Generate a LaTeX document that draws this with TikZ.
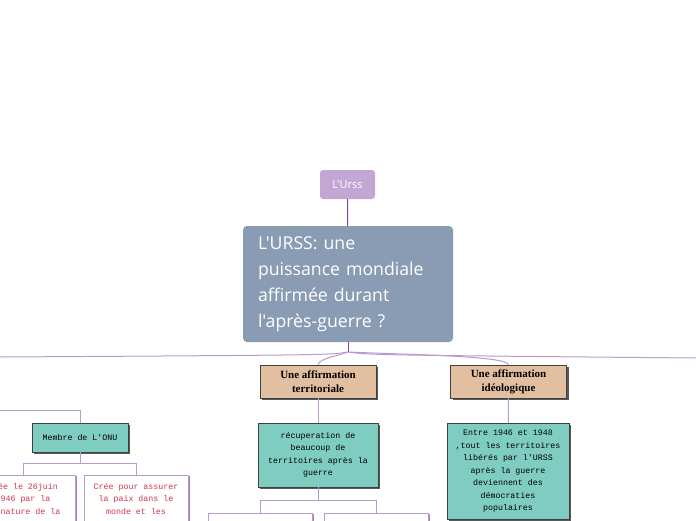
\documentclass[tikz,border=0pt]{standalone}
\usepackage{fontspec}
\newfontfamily\mainsans{Open Sans}
\newfontfamily\headfont{Liberation Serif}
\newfontfamily\notefont{Liberation Mono}
\usetikzlibrary{positioning,shadows}
\definecolor{urssfill}{HTML}{C3A6D4}
\definecolor{mainfill}{HTML}{8A9CB4}
\definecolor{tanfill}{HTML}{E3BFA2}
\definecolor{tealfill}{HTML}{7FCDC1}
\definecolor{linkdark}{HTML}{7D46A6}
\definecolor{linklight}{HTML}{B999D3}
\definecolor{leafred}{HTML}{D4344C}
\tikzset{
  topbox/.style={fill=urssfill,rounded corners=3pt,text=white,minimum width=55pt,minimum height=29pt,font=\mainsans\fontsize{11}{13}\selectfont},
  mainbox/.style={fill=mainfill,rounded corners=4pt,text=white,text width=180pt,inner xsep=15pt,minimum height=116pt,align=left,font=\mainsans\fontsize{17.7}{26}\selectfont},
  headbox/.style={fill=tanfill,draw=black!75,line width=0.8pt,minimum width=116pt,minimum height=33pt,align=center,
    drop shadow={shadow xshift=2pt,shadow yshift=-2pt,fill=black!65,opacity=1},font=\headfont\bfseries\fontsize{11}{14}\selectfont},
  notebox/.style={fill=tealfill,draw=black!75,line width=0.8pt,minimum width=120pt,align=center,inner ysep=7pt,
    drop shadow={shadow xshift=2pt,shadow yshift=-2pt,fill=black!65,opacity=1},font=\notefont\fontsize{8.3}{12.5}\selectfont},
  leafbox/.style={fill=white,draw=linklight,line width=0.8pt,minimum width=104pt,align=center,inner ysep=8pt,text=leafred,
    drop shadow={shadow xshift=2pt,shadow yshift=-1pt,fill=linkdark!70,opacity=1},font=\notefont\fontsize{8.3}{12.5}\selectfont},
  link/.style={draw=linklight,line width=1pt}
}
\begin{document}
\begin{tikzpicture}[x=1pt,y=-1pt]
\useasboundingbox (0,0) rectangle (696,520);
% centre
\node[topbox] (urss) at (347.5,184.5) {L'Urss};
\node[mainbox] (main) at (348,284) {L'URSS: une\\puissance mondiale\\affirmée durant\\l'après-guerre ?};
\coordinate (fork) at (348,352);
\coordinate (westend) at (0,357);
\coordinate (eastend) at (696,358);
% branches
\node[headbox] (terr) at (318,381.5) {Une affirmation\\territoriale};
\node[headbox] (ideo) at (508.5,381.5) {Une affirmation\\idéologique};
\node[notebox,minimum height=64pt] (recup) at (318,455) {récuperation de\\beaucoup de\\territoires après la\\guerre};
\node[notebox,anchor=north,minimum width=122pt] (democ) at (508,423) {Entre 1946 et 1948\\,tout les territoires\\libérés par l'URSS\\après la guerre\\deviennent des\\démocraties\\populaires};
\node[leafbox,anchor=north,minimum height=40pt] (gaina) at (260,513) {};
\node[leafbox,anchor=north,minimum height=40pt] (gainb) at (376,513) {};
% left branch
\coordinate (onuin) at (0,410);
\node[notebox,minimum width=96pt,minimum height=29pt,inner ysep=3pt] (onu) at (80,437.5) {Membre de L'ONU};
\node[leafbox,anchor=north] (date) at (23,475) {Crée le 26juin\\1946 par la\\signature de la\\~};
\node[leafbox,anchor=north] (paix) at (136,475) {Crée pour assurer\\la paix dans le\\monde et les\\~};
% links
\draw[linkdark,line width=1pt] (urss) -- (main);
\draw[linkdark,line width=1pt] (main.south) -- (fork);
\draw[link] (fork) .. controls (330,355) .. (westend);
\draw[link] (fork) .. controls (370,355) .. (eastend);
\draw[link] (fork) .. controls (338,356) and (320,358) .. (terr.north);
\draw[link] (fork) .. controls (420,355) and (505,356) .. (ideo.north);
\draw[link] (terr) -- (recup);
\draw[link] (ideo) -- (democ);
\draw[link] (recup.south) -- ++(0,13) -| (gaina.north);
\draw[link] (recup.south) -- ++(0,13) -| (gainb.north);
\draw[link] (onuin) -| (onu.north);
\draw[link] (onu.south) -- ++(0,11) -| (date.north);
\draw[link] (onu.south) -- ++(0,11) -| (paix.north);
\end{tikzpicture}
\end{document}
